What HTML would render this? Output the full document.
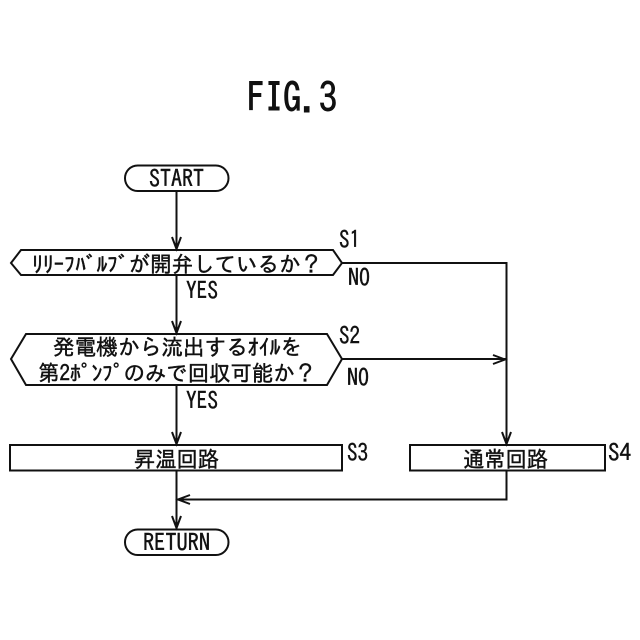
<!DOCTYPE html>
<html><head><meta charset="utf-8"><style>
html,body{margin:0;padding:0;background:#fff}
svg{display:block}
text{font-family:"IPAGothic","Noto Sans CJK JP","Liberation Sans",sans-serif;fill:#111;stroke:#111;stroke-width:.45px}
.j{font-size:22px}
.l{font-size:24px}
</style></head><body>
<svg width="640" height="640" viewBox="0 0 640 640" xmlns="http://www.w3.org/2000/svg">
<g fill="none" stroke="#111" stroke-width="2">
<rect x="125" y="165.500" width="103.500" height="25.500" rx="12.700"/>
<rect x="125" y="529.500" width="103.500" height="25.500" rx="12.700"/>
<path d="M21 250H333L342 263L333 275H21L11 263Z"/>
<path d="M26 334H327L342 359L327 385H26L11 359Z"/>
<rect x="10" y="445" width="332" height="25.500"/>
<rect x="410" y="445" width="195" height="25.500"/>
<path d="M176.500 191V250M176.500 275V334M176.500 385V445M176.500 470.500V529.500"/>
<path d="M342 263H506.500V445M342 359H506.500"/>
<path d="M506.500 470.500V499.500H176.500"/>
<path d="M172 237L176.500 249L181 237M172 321L176.500 333L181 321M172 432L176.500 444L181 432M172 516L176.500 528L181 516M502 432L506.500 444L511 432M493 355L505 359.500L493 364M190 495L178 499.500L190 504"/>
</g>
<text x="247" y="112" textLength="90" lengthAdjust="spacingAndGlyphs" style="font-size:40px;stroke-width:.9px">FIG.3</text>
<text x="149" y="187" textLength="55" lengthAdjust="spacingAndGlyphs" class="l">START</text>
<text x="143" y="551" textLength="67" lengthAdjust="spacingAndGlyphs" class="l">RETURN</text>
<text x="32" y="272" textLength="290" lengthAdjust="spacingAndGlyphs" class="j">ﾘﾘｰﾌﾊﾞﾙﾌﾞが開弁しているか？</text>
<text x="53" y="355" textLength="249" lengthAdjust="spacingAndGlyphs" class="j">発電機から流出するｵｲﾙを</text>
<text x="38" y="381" textLength="278" lengthAdjust="spacingAndGlyphs" class="j">第2ﾎﾟﾝﾌﾟのみで回収可能か？</text>
<text x="134" y="467" textLength="85" lengthAdjust="spacingAndGlyphs" class="j">昇温回路</text>
<text x="463" y="467" textLength="85" lengthAdjust="spacingAndGlyphs" class="j">通常回路</text>
<text x="339" y="248" textLength="21" lengthAdjust="spacingAndGlyphs" class="l">S1</text>
<text x="339" y="344" textLength="21" lengthAdjust="spacingAndGlyphs" class="l">S2</text>
<text x="347" y="461" textLength="21" lengthAdjust="spacingAndGlyphs" class="l">S3</text>
<text x="608" y="461" textLength="23" lengthAdjust="spacingAndGlyphs" class="l">S4</text>
<text x="348" y="286" textLength="22" lengthAdjust="spacingAndGlyphs" class="l">NO</text>
<text x="347" y="386" textLength="22" lengthAdjust="spacingAndGlyphs" class="l">NO</text>
<text x="186" y="299" textLength="32" lengthAdjust="spacingAndGlyphs" class="l">YES</text>
<text x="186" y="409" textLength="32" lengthAdjust="spacingAndGlyphs" class="l">YES</text>
</svg>
</body></html>
